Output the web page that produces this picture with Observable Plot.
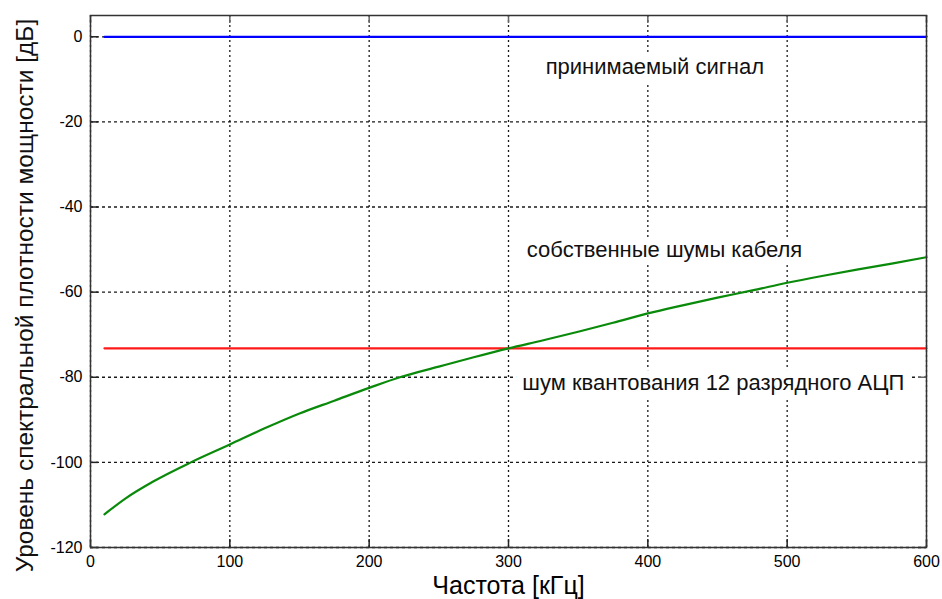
<!DOCTYPE html>
<html>
<head>
<meta charset="utf-8">
<script src="https://cdn.jsdelivr.net/npm/d3@7"></script>
<script src="https://cdn.jsdelivr.net/npm/@observablehq/plot@0.6"></script>
<style>
  html, body { margin: 0; padding: 0; background: #fff; }
  #chart { width: 942px; height: 599px; }
</style>
</head>
<body>
<div id="chart"></div>
<script>
// ---- data ----
const freq = [10, 25, 45, 72, 100, 125, 150, 175, 200, 222, 250, 275, 300, 325, 350, 375, 400, 425, 450, 475, 500, 525, 550, 575, 600];
const cableNoise = [-112.2, -108.5, -104.5, -100, -95.8, -92, -88.5, -85.5, -82.5, -80, -77.5, -75.3, -73.2, -71.3, -69.3, -67.2, -65, -63.1, -61.3, -59.6, -57.8, -56.2, -54.7, -53.3, -51.8];
const signalFreq = [10, 600];
const signalLevel = [0, 0];
const quantFreq = [10, 600];
const quantLevel = [-73.2, -73.2];
const xTicks = [0, 100, 200, 300, 400, 500, 600];
const yTicks = [-120, -100, -80, -60, -40, -20, 0];
const labelTexts = ["принимаемый сигнал", "собственные шумы кабеля", "шум квантования 12 разрядного АЦП"];
const labelFreq = [405, 412, 447];
const labelLevel = [-7, -50, -81.4];
const xTitle = "Частота [кГц]";
const yTitle = "Уровень спектральной плотности мощности [дБ]";

// ---- build tables ----
const cable = freq.map((f, i) => ({f, v: cableNoise[i]}));
const signal = signalFreq.map((f, i) => ({f, v: signalLevel[i]}));
const quant = quantFreq.map((f, i) => ({f, v: quantLevel[i]}));
const labels = labelTexts.map((t, i) => ({t, f: labelFreq[i], v: labelLevel[i]}));

const W = 942, H = 599;
const mL = 90, mR = 16, mT = 15, mB = 52;
const pw = W - mL - mR, ph = H - mT - mB;
const font = "'Liberation Sans', Arial, sans-serif";
const fmt = d => String(d);

const chart = Plot.plot({
  width: W, height: H,
  marginLeft: mL, marginRight: mR, marginTop: mT, marginBottom: mB,
  style: {fontFamily: font, background: "#fff", color: "#000"},
  x: {domain: [0, 600], ticks: xTicks, label: xTitle},
  y: {domain: [-120, 5], ticks: yTicks, label: yTitle},
  marks: [
    // dotted grid
    Plot.gridX(xTicks, {stroke: "#000", strokeOpacity: 0.9, strokeDasharray: "2,3", strokeWidth: 1.3}),
    Plot.gridY(yTicks, {stroke: "#000", strokeOpacity: 0.9, strokeDasharray: "3,3", strokeWidth: 1.3}),
    // inward ticks on four sides
    Plot.tickY(yTicks, {y: d => d, insetRight: pw - 8, stroke: "#222", strokeWidth: 1.5}),
    Plot.tickY(yTicks, {y: d => d, insetLeft: pw - 8, stroke: "#666", strokeWidth: 1.5}),
    Plot.tickX(xTicks, {x: d => d, insetTop: ph - 8, stroke: "#222", strokeWidth: 1.5}),
    Plot.tickX(xTicks, {x: d => d, insetBottom: ph - 8, stroke: "#666", strokeWidth: 1.5}),
    // annotations with white background halo
    Plot.text(labels, {x: "f", y: "v", text: "t", fontSize: 22, fill: "#111", stroke: "white", strokeWidth: 16, paintOrder: "stroke", fontFamily: font}),
    // axes
    Plot.axisX(xTicks, {tickSize: 0, tickPadding: 8, fontSize: 16, tickFormat: fmt, label: null}),
    Plot.axisY(yTicks, {tickSize: 0, tickPadding: 8, fontSize: 16, tickFormat: fmt, label: null}),
    Plot.axisX({ticks: [], tickSize: 0, fontSize: 25, label: xTitle, labelAnchor: "center", labelOffset: 46, labelArrow: "none"}),
    Plot.text([yTitle], {frameAnchor: "left", textAnchor: "middle", dx: -65, dy: 14, rotate: -90, fontSize: 24.5, fill: "#111", fontFamily: font}),
    // series
    Plot.line(signal, {x: "f", y: "v", stroke: "#0000ff", strokeWidth: 2.2}),
    Plot.line(quant, {x: "f", y: "v", stroke: "#ff1a1a", strokeWidth: 2.2}),
    Plot.line(cable, {x: "f", y: "v", stroke: "#0a8a0a", strokeWidth: 2.2, curve: "monotone-x"}),
    // frame
    Plot.frame({stroke: "#333", strokeWidth: 1.5})
  ]
});
document.getElementById("chart").appendChild(chart);
</script>
</body>
</html>
